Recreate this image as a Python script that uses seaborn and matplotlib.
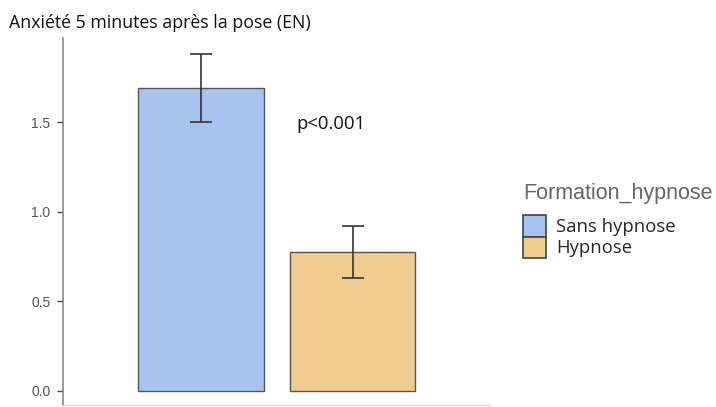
import matplotlib
matplotlib.use("Agg")
import matplotlib.pyplot as plt
import matplotlib.patches as mpatches
import seaborn as sns
import pandas as pd

groups = ["Sans hypnose", "Hypnose"]
means = [1.69, 0.775]
err_low = [1.50, 0.63]
err_high = [1.88, 0.92]
colors = ["#A7C4F0", "#F0CD8E"]
yticks = [0.0, 0.5, 1.0, 1.5]
title = "Anxiété 5 minutes après la pose (EN)"
annot = "p<0.001"
legend_title = "Formation_hypnose"

df = pd.DataFrame({"Formation_hypnose": groups, "Anx": means})

sns.set_style("white")
fig = plt.figure(figsize=(7.16, 4.07), dpi=100)
ax = fig.add_axes([0.088, 0.005, 0.597, 0.902])

sns.barplot(data=df, x="Formation_hypnose", y="Anx", hue="Formation_hypnose",
            palette=colors, order=groups, hue_order=groups, width=0.83, saturation=1,
            edgecolor="#555555", linewidth=1.0, legend=False, ax=ax, errorbar=None)

xs = list(range(len(groups)))
ax.errorbar(xs, means,
            yerr=[[m - l for m, l in zip(means, err_low)], [h - m for m, h in zip(means, err_high)]],
            fmt="none", ecolor="#333333", elinewidth=1.2, capsize=8, capthick=1.2)

ax.set_xlim(-0.91, 1.91)
ax.set_ylim(-0.08, 1.97)
ax.set_yticks(yticks)
ax.set_yticklabels([f"{t:.1f}" for t in yticks])
ax.set_xticks([])
ax.set_xlabel("")
ax.set_ylabel("")
for s in ["top", "right"]:
    ax.spines[s].set_visible(False)
ax.spines["left"].set_color("#888888")
ax.spines["left"].set_linewidth(1.2)
ax.spines["bottom"].set_color("#dddddd")
ax.spines["bottom"].set_linewidth(1.0)
ax.tick_params(axis="y", which="both", left=True, length=4, width=1, color="#444444",
               labelsize=10, labelcolor="#555555", pad=5)
for lab in ax.get_yticklabels():
    lab.set_family("Liberation Sans")

fig.text(0.013, 0.943, title, fontsize=12.8, family="Open Sans", color="#111111", va="center")
ax.text(0.63, 1.49, annot, fontsize=13.3, family="Open Sans", color="#111111", va="center", ha="left")

# legend title
fig.text(0.731, 1 - 193 / 407, legend_title, fontsize=15.5, family="Liberation Sans",
         color="#666666", va="center", ha="left")

handles = [mpatches.Patch(facecolor=c, edgecolor="#444444", linewidth=1.2, label=g)
           for c, g in zip(colors, groups)]
leg = fig.legend(handles=handles, loc="upper left",
                 bbox_to_anchor=(0.730, 1 - 215 / 407), frameon=False,
                 prop={"family": "Open Sans", "size": 13.3},
                 handlelength=1.25, handleheight=1.42, handletextpad=0.55,
                 labelspacing=0.0, borderpad=0, borderaxespad=0)

fig.savefig("out.png", dpi=100)
